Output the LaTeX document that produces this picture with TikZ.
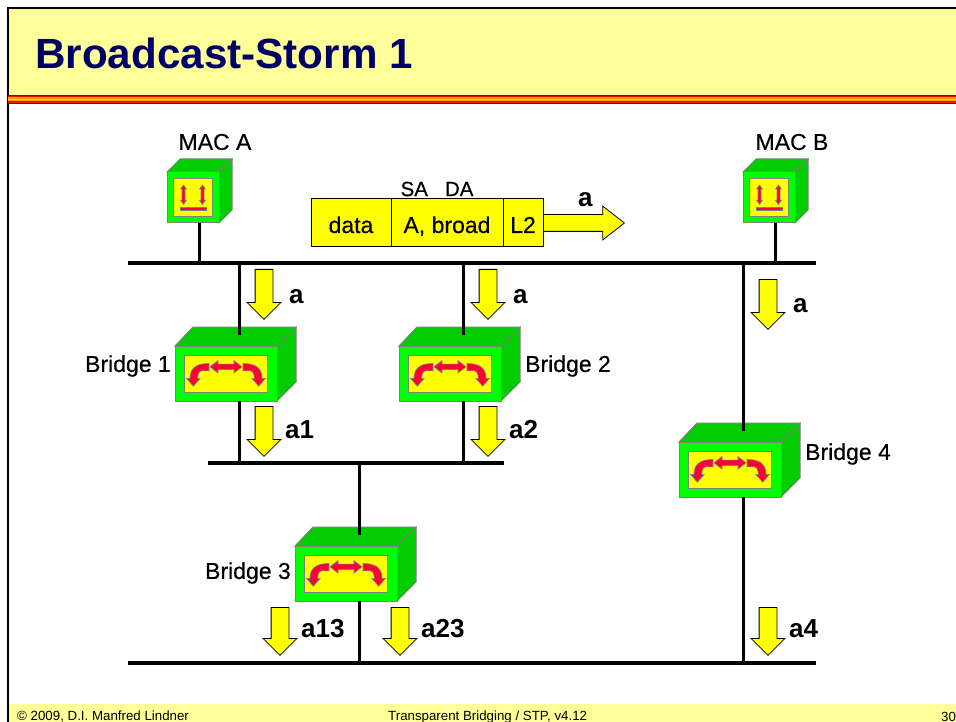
\documentclass[tikz,border=0pt]{standalone}
\usepackage{fontspec}
\setmainfont{Liberation Sans}
\newfontfamily\tagfont[FakeBold=0.4]{Liberation Sans}
\usetikzlibrary{shapes.arrows}
\definecolor{navy}{RGB}{0,0,102}
\definecolor{pale}{RGB}{255,255,153}
\definecolor{lime}{RGB}{0,255,0}
\definecolor{signal}{RGB}{255,255,0}
\definecolor{topgreen}{RGB}{0,204,0}
\definecolor{sidegreen}{RGB}{0,204,0}
\definecolor{edge}{RGB}{128,128,128}
\definecolor{alarm}{RGB}{255,0,51}
\definecolor{stripedark}{RGB}{150,0,0}
\definecolor{stripered}{RGB}{230,20,0}
\definecolor{stripeamber}{RGB}{255,153,0}
\definecolor{stripelight}{RGB}{255,225,0}
\tikzset{
  wire/.style={black,line width=3pt},
  bus/.style={black,line width=4pt},
  face/.style={draw=edge,line width=1pt,fill=#1,inner sep=0pt,outer sep=0pt},
  tag/.style={font=\tagfont\fontsize{23}{25}\selectfont,inner sep=0pt},
  flowtag/.style={font=\fontsize{26}{28}\selectfont\bfseries,inner sep=0pt,anchor=base west},
  foot/.style={font=\fontsize{13.3}{15}\selectfont,inner sep=0pt,anchor=base west},
  cell/.style={draw=black,line width=1pt,fill=signal,inner sep=0pt,outer sep=0pt,
    minimum height=48pt,anchor=west,text height=22pt,text depth=2pt,font=\tagfont\fontsize{23}{25}\selectfont},
  flowdown/.style={single arrow,draw=black,line width=0.8pt,fill=signal,inner sep=8.5pt,
    minimum height=#1,single arrow head extend=8pt,shape border rotate=270,anchor=tail},
  flowdown/.default=50pt,
  % pictograms
  pics/bridge/.style={code={
    \fill[topgreen,draw=edge,line width=1pt] (-51,-27.5) -- (-33,-46.5) -- (70,-46.5) -- (51,-27.5) -- cycle;
    \fill[sidegreen,draw=edge,line width=1pt] (51,-27.5) -- (70,-46.5) -- (70,8.5) -- (51,27.5) -- cycle;
    \node[face=lime,minimum width=102pt,minimum height=55pt] (front) at (0,0) {};
    \node[face=signal,minimum width=83pt,minimum height=37pt] (inner) at (0,0) {};
    \filldraw[alarm,draw=edge,line width=0.7pt] (-17,-10) -- (-17,-2.7) -- (-24.3,-2.7)
      .. controls (-27,-2.7) and (-28.3,1) .. (-28.3,5) -- (-26,5) -- (-32.7,12.7) -- (-39.3,5) -- (-36,5)
      .. controls (-36,-6) and (-29,-10) .. (-17,-10) -- cycle;
    \filldraw[alarm,draw=edge,line width=0.7pt] (17,-10) -- (17,-2.7) -- (24.3,-2.7)
      .. controls (27,-2.7) and (28.3,1) .. (28.3,5) -- (26,5) -- (32.7,12.7) -- (39.3,5) -- (36,5)
      .. controls (36,-6) and (29,-10) .. (17,-10) -- cycle;
    \filldraw[alarm,draw=edge,line width=0.7pt] (-16,-6.7) -- (-8,-12.9) -- (-8,-9.4) -- (8,-9.4) -- (8,-12.9)
      -- (16,-6.7) -- (8,-0.5) -- (8,-4) -- (-8,-4) -- (-8,-0.5) -- cycle;
  }},
  pics/station/.style={code={
    \fill[topgreen,draw=edge,line width=1pt] (-26,-25.5) -- (-13,-38.5) -- (39,-38.5) -- (26,-25.5) -- cycle;
    \fill[sidegreen,draw=edge,line width=1pt] (26,-25.5) -- (39,-38.5) -- (39,12.5) -- (26,25.5) -- cycle;
    \node[face=lime,minimum width=52pt,minimum height=51pt] (front) at (0,0) {};
    \node[face=signal,minimum width=39pt,minimum height=38pt] (inner) at (0,0) {};
    \foreach \x in {-9.5,9.5}
      \filldraw[alarm,draw=edge,line width=0.6pt] (\x,-12.5) -- (\x+3,-8.5) -- (\x+1.5,-8.5) -- (\x+1.5,2.8) -- (\x+3,2.8)
        -- (\x,6.8) -- (\x-3,2.8) -- (\x-1.5,2.8) -- (\x-1.5,-8.5) -- (\x-3,-8.5) -- cycle;
    \filldraw[alarm,draw=edge,line width=0.6pt] (-13,9.8) rectangle (13,13.2);
  }},
}
\begin{document}
\begin{tikzpicture}[x=1pt,y=-1pt]
  \useasboundingbox (0,0) rectangle (956,722);
  % slide
  \fill[pale] (8,8) rectangle (956,96);
  \fill[pale] (8,704) rectangle (956,722);
  \draw[black,line width=2pt] (8,722) -- (8,8.5) -- (956,8.5);
  \fill[stripedark] (8,95) rectangle (956,104);
  \fill[stripered] (8,96) rectangle (956,103);
  \fill[stripeamber] (8,97.5) rectangle (956,101.5);
  \fill[stripelight] (8,98.7) rectangle (956,100.3);
  \node[anchor=base west,inner sep=0pt,text=navy,font=\fontsize{42.2}{44}\selectfont\bfseries] (title) at (35,69) {Broadcast-Storm 1};
  \node[foot] (copyr) at (17,720) {© 2009, D.I. Manfred Lindner};
  \node[foot] (topic) at (388,720) {Transparent Bridging / STP, v4.12};
  \node[foot] (pagenr) at (941,721) {30};
  % boxes
  \pic (maca) at (193,197.5) {station};
  \pic (macb) at (769,197.5) {station};
  \pic (br1) at (226,373.5) {bridge};
  \pic (br2) at (450,373.5) {bridge};
  \pic (br3) at (346,573.5) {bridge};
  \pic (br4) at (730,469.5) {bridge};
  % segments
  \coordinate (s1w) at (128,263); \coordinate (s1e) at (816,263);
  \coordinate (s2w) at (208,463); \coordinate (s2e) at (504,463);
  \coordinate (s3w) at (128,663); \coordinate (s3e) at (816,663);
  \draw[bus] (s1w) -- (s1e);
  \draw[bus] (s2w) -- (s2e);
  \draw[bus] (s3w) -- (s3e);
  \coordinate (mAx) at (199,223); \coordinate (mBx) at (775,223);
  \coordinate (b1in) at (239,335); \coordinate (b2in) at (463,335);
  \coordinate (b3in) at (359,535); \coordinate (b4in) at (743,431);
  \draw[wire] (mAx |- macafront.south) -- (mAx |- s1w);
  \draw[wire] (mBx |- macbfront.south) -- (mBx |- s1w);
  \draw[wire] (b1in |- s1w) -- (b1in);
  \draw[wire] (b2in |- s1w) -- (b2in);
  \draw[wire] (b4in |- s1w) -- (b4in);
  \draw[wire] (b1in |- br1front.south) -- (b1in |- s2w);
  \draw[wire] (b2in |- br2front.south) -- (b2in |- s2w);
  \draw[wire] (b3in |- s2w) -- (b3in);
  \draw[wire] (b3in |- br3front.south) -- (b3in |- s3w);
  \draw[wire] (b4in |- br4front.south) -- (b4in |- s3w);
  % frame
  \node[cell,minimum width=80pt] (fdata) at (311,223) {data};
  \node[cell,minimum width=112pt] (faddr) at (fdata.east) {A, broad};
  \node[cell,minimum width=40pt] (fl2) at (faddr.east) {L2};
  \node[single arrow,draw=black,line width=0.8pt,fill=signal,inner sep=8pt,
    minimum height=81pt,single arrow head extend=8.5pt,single arrow tip angle=76,anchor=west] (fout) at (fl2.east) {};
  \node[tag,font=\tagfont\fontsize{20.5}{22}\selectfont] (sada) at (437,189) {SA\hspace{17pt}DA};
  \node[flowtag] (fa) at (578,207) {a};
  % stations
  \node[tag] (maclabA) at (215,142) {MAC A};
  \node[tag] (maclabB) at (792,142) {MAC B};
  \node[tag,anchor=east] (lab1) at (171,366) {Bridge 1};
  \node[tag,anchor=west] (lab2) at (525,366) {Bridge 2};
  \node[tag,anchor=east] (lab3) at (291,573) {Bridge 3};
  \node[tag,anchor=west] (lab4) at (805,454) {Bridge 4};
  % flow
  \foreach \nm/\x/\y/\len/\lx/\ly/\txt in {f1/264/269/50/289/303/a,f2/488/269/50/513/303/a,f3/768/279/50/793/312/a,
      f4/264/406/50/285/438/a1,f5/488/406/50/509/438/a2,f6/280/607/48/301/637/a13,f7/400/607/48/421/637/a23,f8/768/607/48/789/637/a4}{
    \node[flowdown=\len pt] (\nm) at (\x,\y) {};
    \node[flowtag] (\nm t) at (\lx,\ly) {\txt};
  }
\end{tikzpicture}
\end{document}
